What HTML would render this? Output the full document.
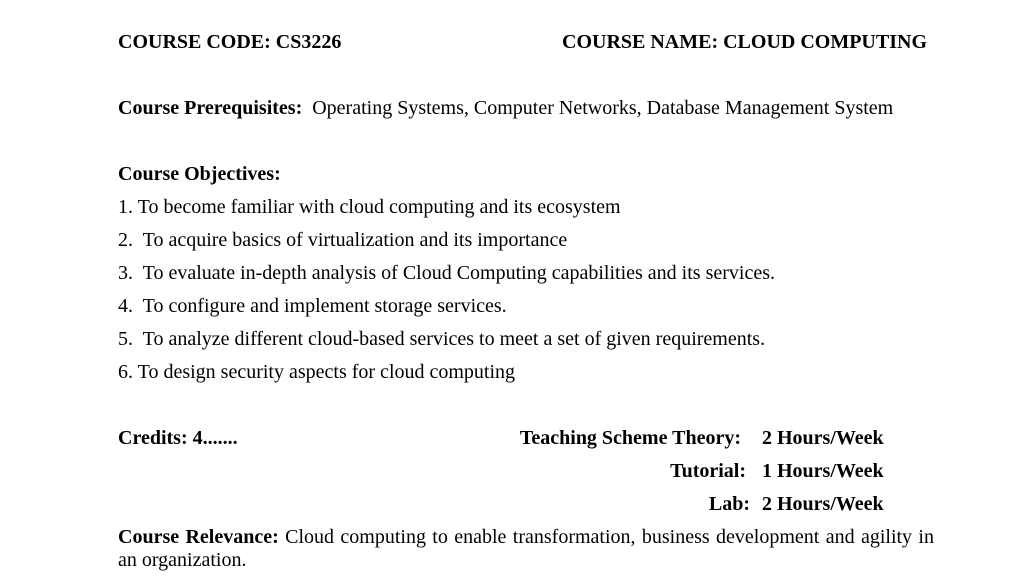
<!DOCTYPE html>
<html><head><meta charset="utf-8"><style>
html,body{margin:0;padding:0;background:#fff;}
body{width:1017px;height:585px;position:relative;overflow:hidden;font-family:"Liberation Serif",serif;font-size:20px;color:#000;}
.l{position:absolute;line-height:22px;white-space:nowrap;}
.r{position:absolute;line-height:22px;white-space:nowrap;text-align:right;}
b{font-weight:bold;}
</style></head><body>
<div class="l" style="left:118px;top:31px"><b>COURSE CODE: CS3226</b></div>
<div class="r" style="right:90px;top:31px"><b>COURSE NAME: CLOUD COMPUTING</b></div>
<div class="l" style="left:118px;top:97px"><b>Course Prerequisites:</b>&nbsp; Operating Systems, Computer Networks, Database Management System</div>
<div class="l" style="left:118px;top:163px"><b>Course Objectives:</b></div>
<div class="l" style="left:118px;top:196px">1. To become familiar with cloud computing and its ecosystem</div>
<div class="l" style="left:118px;top:229px">2.&nbsp; To acquire basics of virtualization and its importance</div>
<div class="l" style="left:118px;top:262px">3.&nbsp; To evaluate in-depth analysis of Cloud Computing capabilities and its services.</div>
<div class="l" style="left:118px;top:295px">4.&nbsp; To configure and implement storage services.</div>
<div class="l" style="left:118px;top:328px">5.&nbsp; To analyze different cloud-based services to meet a set of given requirements.</div>
<div class="l" style="left:118px;top:361px">6. To design security aspects for cloud computing</div>
<div class="l" style="left:118px;top:427px"><b>Credits: 4.......</b></div>
<div class="r" style="right:276px;top:427px"><b>Teaching Scheme Theory:</b></div>
<div class="l" style="left:762px;top:427px"><b>2 Hours/Week</b></div>
<div class="r" style="right:271px;top:460px"><b>Tutorial:</b></div>
<div class="l" style="left:762px;top:460px"><b>1 Hours/Week</b></div>
<div class="r" style="right:267px;top:493px"><b>Lab:</b></div>
<div class="l" style="left:762px;top:493px"><b>2 Hours/Week</b></div>
<div class="l" style="left:118px;top:526px;width:816px;text-align:justify;text-align-last:justify;white-space:normal"><b>Course Relevance:</b> Cloud computing to enable transformation, business development and agility in</div>
<div class="l" style="left:118px;top:549px">an organization.</div>
</body></html>
